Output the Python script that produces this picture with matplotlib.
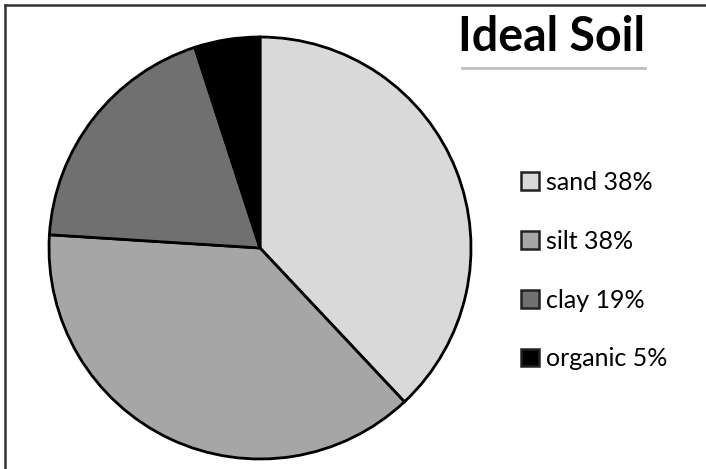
import matplotlib
matplotlib.use("Agg")
import matplotlib.pyplot as plt
from matplotlib.lines import Line2D

labels = ["sand 38%", "silt 38%", "clay 19%", "organic 5%"]
shares = [38, 38, 19, 5]
colors = ["#d9d9d9", "#a6a6a6", "#707070", "#000000"]
title = "Ideal Soil"

plt.rcParams["font.family"] = ["Lato", "DejaVu Sans"]

W, H = 706, 469
fig = plt.figure(figsize=(W / 100, H / 100), dpi=100)
ax = fig.add_axes([0, 0, 1, 1])

wedges, _ = ax.pie(
    shares,
    colors=colors,
    startangle=90,
    counterclock=False,
    center=(260, H - 248),
    radius=211,
    wedgeprops={"edgecolor": "black", "linewidth": 2},
)
ax.set_xlim(0, W)
ax.set_ylim(0, H)
ax.set_aspect("equal")
ax.axis("off")

# title with grey rule under it
fig.text(552 / W, 1 - 37 / H, title, ha="center", va="center",
         fontsize=33.5, fontweight="bold", color="black")
fig.add_artist(Line2D([462 / W, 645 / W], [1 - 68 / H, 1 - 68 / H],
                      color="#bfbfbf", linewidth=2))

leg = ax.legend(
    wedges, labels,
    loc="upper left",
    bbox_to_anchor=(521 / W, 1 - 171 / H),
    frameon=False,
    fontsize=18,
    handlelength=0.72,
    handleheight=0.72,
    handletextpad=0.3,
    labelspacing=1.43,
    borderpad=0,
    borderaxespad=0,
)
for h in leg.legend_handles:
    h.set_edgecolor("#222222")
    h.set_linewidth(1.8)

# frame edges along top and left only
fig.add_artist(Line2D([5 / W, 1], [1 - 5 / H, 1 - 5 / H], color="#333333", linewidth=1.8))
fig.add_artist(Line2D([5 / W, 5 / W], [0, 1 - 5 / H], color="#333333", linewidth=1.8))

fig.savefig("out.png", dpi=100)
